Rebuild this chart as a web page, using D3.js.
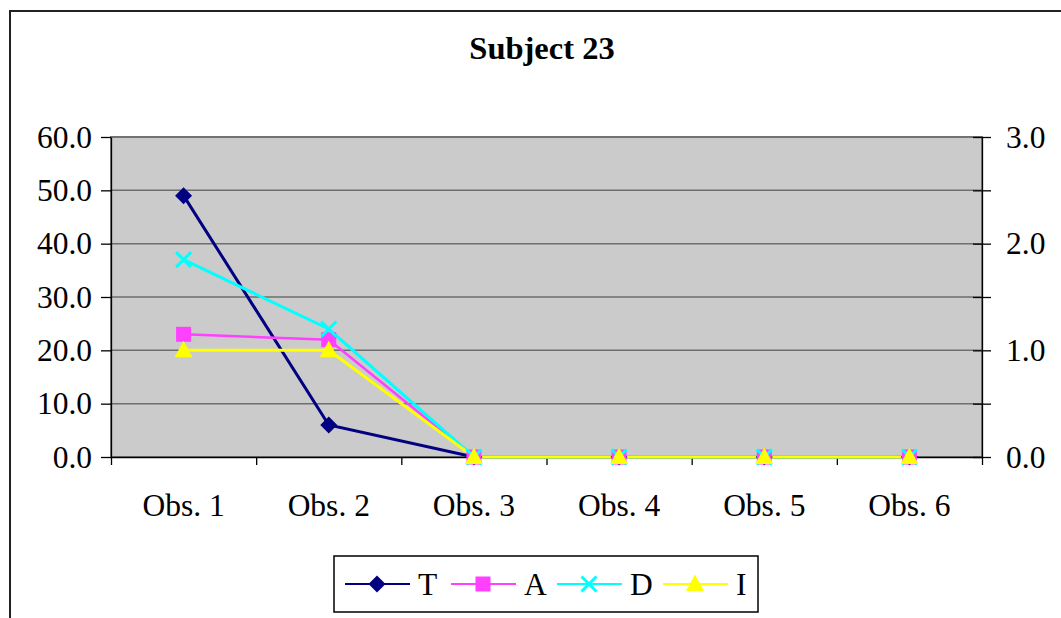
<!doctype html>
<html lang="en">
<head>
<meta charset="utf-8">
<script src="https://cdnjs.cloudflare.com/ajax/libs/d3/7.8.5/d3.min.js"></script>
<style>
  body { margin: 0; background: #fff; }
  svg text { font-family: 'Liberation Serif', 'Times New Roman', serif; fill: #000; }
  .axis text { font-size: 31.5px; }
  .axis line, .axis path { stroke: #000; stroke-width: 1.3px; }
</style>
</head>
<body>
<script>
// chart data
const categories = ["Obs. 1", "Obs. 2", "Obs. 3", "Obs. 4", "Obs. 5", "Obs. 6"];
const valuesT = [49, 6, 0, 0, 0, 0];
const valuesA = [23, 22, 0, 0, 0, 0];
const valuesD = [37, 24, 0, 0, 0, 0];
const valuesI = [1.0, 1.0, 0, 0, 0, 0];   // secondary axis
const leftTicks = [0, 10, 20, 30, 40, 50, 60];
const rightTicks = [0, 0.5, 1, 1.5, 2, 2.5, 3];
const rightLabels = [0, 1, 2, 3];

const w = 1061, h = 618;
const plotLeft = 111, plotRight = 982, plotTop = 137, plotBottom = 457;

const svg = d3.select("body").append("svg")
  .attr("width", w).attr("height", h);

// outer frame
svg.append("rect")
  .attr("x", 10).attr("y", 11).attr("width", 1100).attr("height", 700)
  .attr("fill", "none").attr("stroke", "#222").attr("stroke-width", 2);

// title
svg.append("text")
  .attr("x", 542).attr("y", 59)
  .attr("text-anchor", "middle")
  .style("font-size", "32.5px").style("font-weight", "bold")
  .text("Subject 23");

// scales
const x = d3.scaleBand().domain(categories).range([plotLeft, plotRight]);
const xEdge = d3.scaleLinear().domain([0, categories.length]).range([plotLeft, plotRight]);
const yL = d3.scaleLinear().domain([0, 60]).range([plotBottom, plotTop]);
const yR = d3.scaleLinear().domain([0, 3]).range([plotBottom, plotTop]);
const cx = d => x(d) + x.bandwidth() / 2;

// plot area
svg.append("rect")
  .attr("x", plotLeft).attr("y", plotTop)
  .attr("width", plotRight - plotLeft).attr("height", plotBottom - plotTop)
  .attr("fill", "#cbcbcb").attr("stroke", "#808080").attr("stroke-width", 2);

// gridlines
svg.append("g").selectAll("line")
  .data(leftTicks.slice(1))
  .join("line")
  .attr("x1", plotLeft).attr("x2", plotRight)
  .attr("y1", d => yL(d)).attr("y2", d => yL(d))
  .attr("stroke", "#6e6e6e").attr("stroke-width", 1.5);

// left axis
svg.append("g").attr("class", "axis")
  .attr("transform", `translate(${plotLeft},0)`)
  .call(d3.axisLeft(yL).tickValues(leftTicks).tickFormat(d3.format(".1f"))
    .tickSize(10).tickSizeOuter(0).tickPadding(9));

// right axis with crossing ticks
const ra = svg.append("g").attr("class", "axis")
  .attr("transform", `translate(${plotRight},0)`)
  .call(d3.axisRight(yR).tickValues(rightTicks)
    .tickFormat(d => rightLabels.includes(d) ? d3.format(".1f")(d) : "")
    .tickSize(9).tickSizeOuter(0).tickPadding(15));
ra.selectAll(".tick line").attr("x1", -9);

// bottom axis: ticks at category edges, labels at centres
svg.append("g").attr("class", "axis")
  .attr("transform", `translate(0,${plotBottom})`)
  .call(d3.axisBottom(xEdge).tickValues(d3.range(categories.length + 1))
    .tickFormat("").tickSize(8).tickSizeOuter(0));

svg.append("g").attr("class", "axis")
  .attr("transform", `translate(0,${plotBottom})`)
  .call(d3.axisBottom(x).tickSize(0).tickPadding(37))
  .call(g => g.select(".domain").remove());

// series
const series = [
  { name: "T", values: valuesT, y: yL, color: "#000080", marker: "diamond", width: 3 },
  { name: "A", values: valuesA, y: yL, color: "#ff40ff", marker: "square", width: 2.5 },
  { name: "D", values: valuesD, y: yL, color: "#00ffff", marker: "x", width: 3 },
  { name: "I", values: valuesI, y: yR, color: "#ffff00", marker: "triangle", width: 3 }
];

function drawMarker(g, type, color) {
  if (type === "diamond") {
    g.append("path").attr("d", "M0,-8.5L8.5,0L0,8.5L-8.5,0Z").attr("fill", color);
  } else if (type === "square") {
    g.append("rect").attr("x", -7.5).attr("y", -7.5).attr("width", 15).attr("height", 15).attr("fill", color);
  } else if (type === "x") {
    g.append("path").attr("d", "M-7.5,-7.5L7.5,7.5M-7.5,7.5L7.5,-7.5")
      .attr("stroke", color).attr("stroke-width", 3).attr("fill", "none");
  } else {
    g.append("path").attr("d", "M0,-9.5L9,7L-9,7Z").attr("fill", color);
  }
}

series.forEach(s => {
  const line = d3.line().x((d, i) => cx(categories[i])).y(d => s.y(d));
  svg.append("path")
    .datum(s.values)
    .attr("d", line)
    .attr("fill", "none")
    .attr("stroke", s.color)
    .attr("stroke-width", s.width);
});

series.forEach(s => {
  s.values.forEach((v, i) => {
    const g = svg.append("g").attr("transform", `translate(${cx(categories[i])},${s.y(v)})`);
    drawMarker(g, s.marker, s.color);
  });
});

// legend
const legend = svg.append("g").attr("id", "legend");
legend.append("rect")
  .attr("x", 334).attr("y", 556).attr("width", 424).attr("height", 56)
  .attr("fill", "#fff").attr("stroke", "#000").attr("stroke-width", 1.5);

const legendX = d3.scaleLinear().domain([0, 4]).range([345, 769]);
series.forEach((s, i) => {
  const g = legend.append("g").attr("transform", `translate(${legendX(i)},584)`);
  g.append("line").attr("x1", 0).attr("x2", 65)
    .attr("stroke", s.color).attr("stroke-width", 2);
  const m = g.append("g").attr("transform", "translate(32,0)");
  drawMarker(m, s.marker, s.color);
  g.append("text").attr("x", 73).attr("y", 11)
    .style("font-size", "31.5px").text(s.name);
});
</script>
</body>
</html>
